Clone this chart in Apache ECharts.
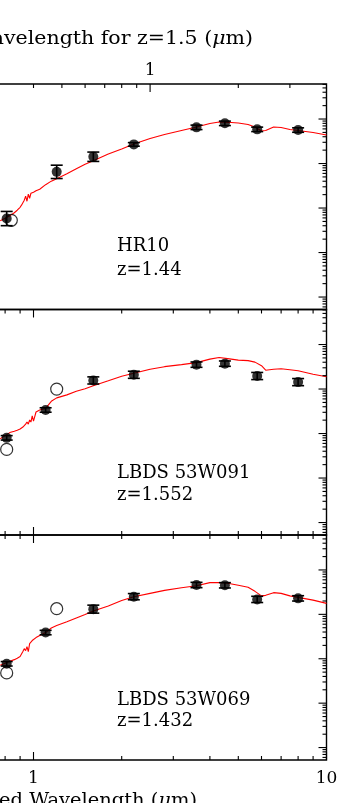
<!DOCTYPE html>
<html><head><meta charset="utf-8">
<script src="https://cdn.jsdelivr.net/npm/echarts@6/dist/echarts.min.js"></script>
<style>
html,body{margin:0;padding:0;background:#fff;overflow:hidden;width:360px;height:803px;position:relative}
#c{position:absolute;left:-200px;top:0;width:560px;height:803px}
</style>
</head><body><div id="c"></div>
<script>
// ---------- data (observed wavelength in micron, flux density in microJy) ----------
const galaxyNames = ['HR10', 'LBDS 53W091', 'LBDS 53W069'];
const galaxyRedshifts = ['1.44', '1.552', '1.432'];

const hr10Wave = [0.81, 1.20, 1.60, 2.20, 3.60, 4.50, 5.80, 8.00];
const hr10Flux = [0.58, 6.5, 14.2, 26.9, 65, 80, 58.6, 56.5];
const hr10ErrDex = [0.16, 0.15, 0.105, 0.04, 0.05, 0.05, 0.05, 0.05];
const hr10OpenWave = [0.84];
const hr10OpenFlux = [0.53];

const w091Wave = [0.81, 1.10, 1.60, 2.20, 3.60, 4.50, 5.80, 8.00];
const w091Flux = [0.80, 3.38, 15.6, 20.9, 35.3, 37.2, 19.6, 14.3];
const w091ErrDex = [0.05, 0.05, 0.08, 0.08, 0.06, 0.06, 0.08, 0.08];
const w091OpenWave = [0.81, 1.20];
const w091OpenFlux = [0.44, 9.95];

const w069Wave = [0.81, 1.10, 1.60, 2.20, 3.60, 4.50, 5.80, 8.00];
const w069Flux = [0.77, 3.89, 13.1, 25.0, 45.8, 45.1, 21.7, 22.9];
const w069ErrDex = [0.05, 0.05, 0.09, 0.07, 0.06, 0.06, 0.07, 0.06];
const w069OpenWave = [0.81, 1.20];
const w069OpenFlux = [0.48, 13.4];

const modelWave = [0.77,0.80,0.83,0.86,0.88,0.90,0.91,0.92,0.93,0.94,0.95,0.96,0.97,0.98,0.99,
  1.00,1.02,1.05,1.10,1.15,1.20,1.30,1.40,1.50,1.60,1.80,2.00,2.20,2.50,2.80,3.20,3.60,4.00,
  4.30,4.60,5.00,5.40,5.70,6.00,6.20,6.60,7.00,7.50,8.00,9.00,10.0];
const hr10Model = [0.518,0.589,0.671,0.784,0.892,1.04,1.16,1.28,1.50,1.85,1.42,2.05,1.66,2.15,1.94,
  2.27,2.45,2.65,3.35,4.02,4.57,5.92,7.67,9.69,11.6,16.3,21.1,27.4,36.4,44.8,55.1,66.1,79.2,
  85.5,84.3,81.3,75.2,66.1,53.7,55.1,66.1,64.4,58.0,55.1,49.7,43.6];
const w091Model = [0.767,0.896,1.05,1.13,1.19,1.26,1.33,1.40,1.55,1.63,1.81,1.63,2.01,1.81,2.48,
  1.91,3.05,3.38,3.66,5.3,6.32,7.39,8.87,10.1,11.8,15.3,19.4,22.6,27.9,31.8,35.3,39.2,47.0,
  51.3,48.2,44.6,43.5,40.2,33.5,26.5,27.9,28.6,27.2,25.8,21.5,18.9];
const w069Model = [0.716,0.794,0.883,0.955,1.03,1.12,1.24,1.45,1.69,1.52,1.88,1.45,2.20,2.08,2.57,
  2.63,3.00,3.33,3.89,4.92,5.61,6.80,8.29,9.95,11.9,15.5,20.6,25.0,29.7,34.7,39.6,43.9,51.9,
  52.1,50.0,45.1,40.6,33.0,26.1,26.8,30.8,29.7,26.1,24.1,20.9,17.7];

// tick values
const obsMajorTicks = [1, 10];
const obsMinorTicks = [0.3,0.4,0.5,0.6,0.7,0.8,0.9,2,3,4,5,6,7,8,9];
const restMajorTicks = [1];
const restMinorTicks = [0.2,0.3,0.4,0.5,0.6,0.7,0.8,0.9,2,3];
const fluxMajorTicks = [0.01, 0.1, 1, 10, 100];
const fluxMinorTicks = [];
[0.001, 0.01, 0.1, 1, 10, 100].forEach(d => { for (let m = 2; m <= 9; m++) fluxMinorTicks.push(+(d*m).toPrecision(3)); });

const redshiftTop = 1.5;
const obsMin = 0.3, obsMax = 10;
const fluxMin = Math.pow(10, -2.28), fluxMax = Math.pow(10, 2.787);

// ---------- layout ----------
const panels = [
  {wave: hr10Wave, flux: hr10Flux, err: hr10ErrDex, ow: hr10OpenWave, of: hr10OpenFlux, model: hr10Model},
  {wave: w091Wave, flux: w091Flux, err: w091ErrDex, ow: w091OpenWave, of: w091OpenFlux, model: w091Model},
  {wave: w069Wave, flux: w069Flux, err: w069ErrDex, ow: w069OpenWave, of: w069OpenFlux, model: w069Model}
];
const gridTops = [84, 309.5, 535];
const gridHeights = [225.5, 225.5, 225];
const GL = 80.3, GW = 446.2;
const FONT = '"DejaVu Serif", "Liberation Serif", serif';

const grids = gridTops.map((t, i) => ({
  left: GL, width: GW, top: t, height: gridHeights[i], show: true,
  borderColor: '#000', borderWidth: 1.4, backgroundColor: 'transparent', containLabel: false
}));

function near(v, t) { return Math.abs(v - t) < 1e-6 * t; }

const xAxes = gridTops.map((t, i) => ({
  gridIndex: i, type: 'log', logBase: 10, min: obsMin, max: obsMax, position: 'bottom',
  axisLine: {show: false}, axisTick: {show: false}, splitLine: {show: false},
  axisLabel: {show: i === 2, color: '#000', fontFamily: FONT, fontSize: 17, margin: 10,
    formatter: v => near(v, 1) ? '1' : (near(v, 10) ? '10' : '')}
}));
xAxes.push({
  gridIndex: 0, type: 'log', logBase: 10, min: obsMin / (1 + redshiftTop), max: obsMax / (1 + redshiftTop),
  position: 'top', axisLine: {show: false}, axisTick: {show: false}, splitLine: {show: false},
  axisLabel: {show: true, color: '#000', fontFamily: FONT, fontSize: 17, margin: 5,
    formatter: v => near(v, 1) ? '1' : ''}
});
const yAxes = gridTops.map((t, i) => ({
  gridIndex: i, type: 'log', logBase: 10, min: fluxMin, max: fluxMax, show: false
}));

const series = [];

function xTickSeries(xi, yi, edge) {
  const data = obsMajorTicks.map(v => [v, 1, 1]).concat(obsMinorTicks.map(v => [v, 1, 0]));
  return makeXTicks(xi, yi, edge, data);
}
function makeXTicks(xi, yi, edge, data) {
  return {
    type: 'custom', xAxisIndex: xi, yAxisIndex: yi, silent: true, z: 5, clip: false,
    encode: {x: 0, y: 1}, data: data,
    renderItem: (params, api) => {
      const cs = params.coordSys;
      const px = api.coord([api.value(0), 1])[0];
      const len = api.value(2) ? 8 : 4;
      const y0 = edge === 'bottom' ? cs.y + cs.height : cs.y;
      const dir = edge === 'bottom' ? -1 : 1;
      return {type: 'line', shape: {x1: px, y1: y0, x2: px, y2: y0 + dir * len},
        style: {stroke: '#000', lineWidth: 1.1}};
    }
  };
}
function yTickSeries(xi, yi) {
  const data = fluxMajorTicks.map(v => [1, v, 1]).concat(fluxMinorTicks.filter(v => v > fluxMin && v < fluxMax).map(v => [1, v, 0]));
  return {
    type: 'custom', xAxisIndex: xi, yAxisIndex: yi, silent: true, z: 5, clip: false,
    encode: {x: 0, y: 1}, data: data,
    renderItem: (params, api) => {
      const cs = params.coordSys;
      const py = api.coord([1, api.value(1)])[1];
      const len = api.value(2) ? 8 : 4;
      const x0 = cs.x + cs.width;
      return {type: 'line', shape: {x1: x0, y1: py, x2: x0 - len, y2: py},
        style: {stroke: '#000', lineWidth: 1.1}};
    }
  };
}

panels.forEach((p, i) => {
  series.push({
    type: 'line', xAxisIndex: i, yAxisIndex: i, symbol: 'none', showSymbol: false, silent: true, z: 2,
    lineStyle: {color: '#ff0000', width: 1.1}, data: modelWave.map((w, k) => [w, p.model[k]])
  });
  series.push({
    type: 'custom', xAxisIndex: i, yAxisIndex: i, silent: true, z: 3,
    encode: {x: 0, y: 1}, data: p.wave.map((w, k) => [w, p.flux[k], p.err[k]]),
    renderItem: (params, api) => {
      const w = api.value(0), f = api.value(1), e = api.value(2);
      const lo = api.coord([w, f / Math.pow(10, e)]);
      const hi = api.coord([w, f * Math.pow(10, e)]);
      const hw = 6, st = {stroke: '#000', lineWidth: 1.6};
      return {type: 'group', children: [
        {type: 'line', shape: {x1: lo[0], y1: lo[1], x2: hi[0], y2: hi[1]}, style: st},
        {type: 'line', shape: {x1: lo[0] - hw, y1: lo[1], x2: lo[0] + hw, y2: lo[1]}, style: st},
        {type: 'line', shape: {x1: hi[0] - hw, y1: hi[1], x2: hi[0] + hw, y2: hi[1]}, style: st}
      ]};
    }
  });
  series.push({
    type: 'scatter', xAxisIndex: i, yAxisIndex: i, silent: true, z: 4, symbol: 'circle', symbolSize: 10,
    itemStyle: {color: '#000'}, data: p.wave.map((w, k) => [w, p.flux[k]])
  });
  series.push({
    type: 'scatter', xAxisIndex: i, yAxisIndex: i, silent: true, z: 4, symbol: 'circle', symbolSize: 12,
    itemStyle: {color: 'rgba(0,0,0,0)', borderColor: '#000', borderWidth: 1.2},
    data: p.ow.map((w, k) => [w, p.of[k]])
  });
  series.push(yTickSeries(i, i));
  if (i > 0) {
    series.push(xTickSeries(i, i, 'top'));
    series.push(xTickSeries(i, i, 'bottom'));
  }
});
// rest-frame ticks on top of first panel
series.push(makeXTicks(3, 0, 'top',
  restMajorTicks.map(v => [v, 1, 1]).concat(restMinorTicks.map(v => [v, 1, 0]))));

const textLines = [];
const nameY = [246.7, 473.3, 700];
const zY = [270, 495, 721.7];
galaxyNames.forEach((n, i) => {
  textLines.push({type: 'text', x: 317, y: nameY[i], silent: true,
    style: {text: n, fill: '#000', fontFamily: FONT, fontSize: 18, align: 'left', verticalAlign: 'middle'}});
  textLines.push({type: 'text', x: 317, y: zY[i], silent: true,
    style: {text: 'z=' + galaxyRedshifts[i], fill: '#000', fontFamily: FONT, fontSize: 18, align: 'left', verticalAlign: 'middle'}});
});
textLines.push({type: 'text', x: 453, y: 39, scaleX: 1.14, silent: true,
  style: {text: 'Rest Wavelength for z=1.5 ({i|μ}m)', fill: '#000', fontFamily: FONT, fontSize: 18,
    align: 'right', verticalAlign: 'middle',
    rich: {i: {fontStyle: 'italic', fontFamily: FONT, fontSize: 18, fill: '#000'}}}});
textLines.push({type: 'text', x: 397, y: 801, scaleX: 1.08, silent: true,
  style: {text: 'Observed Wavelength ({i|μ}m)', fill: '#000', fontFamily: FONT, fontSize: 18,
    align: 'right', verticalAlign: 'middle',
    rich: {i: {fontStyle: 'italic', fontFamily: FONT, fontSize: 18, fill: '#000'}}}});

const chart = echarts.init(document.getElementById('c'), null, {renderer: 'canvas'});
chart.setOption({
  animation: false,
  backgroundColor: '#fff',
  grid: grids, xAxis: xAxes, yAxis: yAxes, series: series, graphic: textLines
});
</script>
</body></html>
